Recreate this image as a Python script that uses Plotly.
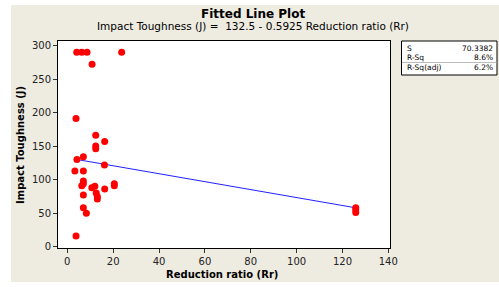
import plotly.graph_objects as go

# Data
reduction_ratio = [4.1, 6.3, 8.6, 23.7, 10.8, 3.8, 12.4, 16.3, 12.4, 12.4,
                   4.2, 7.0, 16.2, 3.3, 7.0, 7.0, 7.0, 6.3, 10.7, 12.0,
                   16.3, 20.5, 20.5, 12.6, 13.1, 13.1, 7.0, 7.0, 8.3, 3.8,
                   125.8, 125.8, 125.8]
impact_toughness = [290, 290, 290, 290, 272, 191, 166, 157, 150, 146,
                    130, 134, 122, 113, 113, 98, 94, 91, 88, 90,
                    86, 94, 91, 80, 75, 71, 77, 58, 50, 16,
                    58, 55, 51]
intercept = 132.5
slope = -0.5925
stat_labels = ["S", "R-Sq", "R-Sq(adj)"]
stat_values = ["70.3382", "8.6%", "6.2%"]
x_ticks = [0, 20, 40, 60, 80, 100, 120, 140]
y_ticks = [0, 50, 100, 150, 200, 250, 300]

FONT = "DejaVu Sans"
BEIGE = "#EEEBE1"

xmin, xmax = min(reduction_ratio), max(reduction_ratio)
fit_x = [xmin, xmax]
fit_y = [intercept + slope * v for v in fit_x]

fig = go.Figure()
fig.add_trace(go.Scatter(x=fit_x, y=fit_y, mode="lines",
                         line=dict(color="#2020FF", width=1), hoverinfo="skip"))
fig.add_trace(go.Scatter(x=reduction_ratio, y=impact_toughness, mode="markers",
                         marker=dict(color="#FF0000", size=7, line=dict(width=0))))

W, H = 499, 287
L, R, T, B = 58, 390, 41, 248
pw, ph = R - L, B - T


def px(xp):
    return (xp - L) / pw


def py(yp):
    return (B - yp) / ph


shapes = [
    # white strips around the beige page
    dict(type="rect", xref="paper", yref="paper", x0=px(0), x1=px(11), y0=py(0), y1=py(287),
         fillcolor="white", line=dict(width=0), layer="below"),
    dict(type="rect", xref="paper", yref="paper", x0=px(0), x1=px(499), y0=py(0), y1=py(5),
         fillcolor="white", line=dict(width=0), layer="below"),
    dict(type="rect", xref="paper", yref="paper", x0=px(0), x1=px(499), y0=py(282), y1=py(287),
         fillcolor="white", line=dict(width=0), layer="below"),
    # stats box
    dict(type="rect", xref="paper", yref="paper", x0=px(401.5), x1=px(497), y0=py(41), y1=py(75),
         fillcolor="white", line=dict(color="black", width=1)),
    dict(type="line", xref="paper", yref="paper", x0=px(402), x1=px(496.5), y0=py(62.5), y1=py(62.5),
         line=dict(color="#BBBBBB", width=1)),
]

annotations = [
    dict(text="<b>Fitted Line Plot</b>", xref="paper", yref="paper", x=px(253), y=py(14),
         showarrow=False, font=dict(family=FONT, size=12, color="black"), xanchor="center", yanchor="middle"),
    dict(text="Impact Toughness (J) =  132.5 - 0.5925 Reduction ratio (Rr)", xref="paper", yref="paper",
         x=px(253), y=py(26.5), showarrow=False, font=dict(family=FONT, size=10.5, color="black"),
         xanchor="center", yanchor="middle"),
    dict(text="<b>Reduction ratio (Rr)</b>", xref="paper", yref="paper", x=px(222), y=py(274),
         showarrow=False, font=dict(family=FONT, size=10, color="black"), xanchor="center", yanchor="middle"),
    dict(text="<b>Impact Toughness (J)</b>", xref="paper", yref="paper", x=px(20), y=py(145),
         showarrow=False, textangle=-90, font=dict(family=FONT, size=10, color="black"),
         xanchor="center", yanchor="middle"),
]
row_y = [49, 57.8, 67.5]
for lab, val, yy in zip(stat_labels, stat_values, row_y):
    annotations.append(dict(text=lab, xref="paper", yref="paper", x=px(405), y=py(yy), showarrow=False,
                            font=dict(family=FONT, size=7.5, color="black"), xanchor="left", yanchor="middle"))
    annotations.append(dict(text=val, xref="paper", yref="paper", x=px(495), y=py(yy), showarrow=False,
                            font=dict(family=FONT, size=7.5, color="black"), xanchor="right", yanchor="middle"))

fig.update_layout(
    width=W, height=H,
    margin=dict(l=L, r=W - R, t=T, b=H - B, autoexpand=False),
    paper_bgcolor=BEIGE, plot_bgcolor="white",
    showlegend=False,
    shapes=shapes, annotations=annotations,
    xaxis=dict(range=[-4.06, 140.74], tickvals=x_ticks, ticks="outside", ticklen=4, tickcolor="#333333",
               showline=True, linecolor="black", linewidth=1, mirror=True, showgrid=False, zeroline=False,
               automargin=False, tickfont=dict(family=FONT, size=10, color="#222222")),
    yaxis=dict(range=[-1.94, 306.7], tickvals=y_ticks, ticks="outside", ticklen=4, tickcolor="#333333",
               showline=True, linecolor="black", linewidth=1, mirror=True, showgrid=False, zeroline=False,
               automargin=False, tickfont=dict(family=FONT, size=10, color="#222222")),
)

fig.write_html("out.html", config={"displayModeBar": False},
               post_script="document.body.style.margin='0';document.body.style.overflow='hidden';")
